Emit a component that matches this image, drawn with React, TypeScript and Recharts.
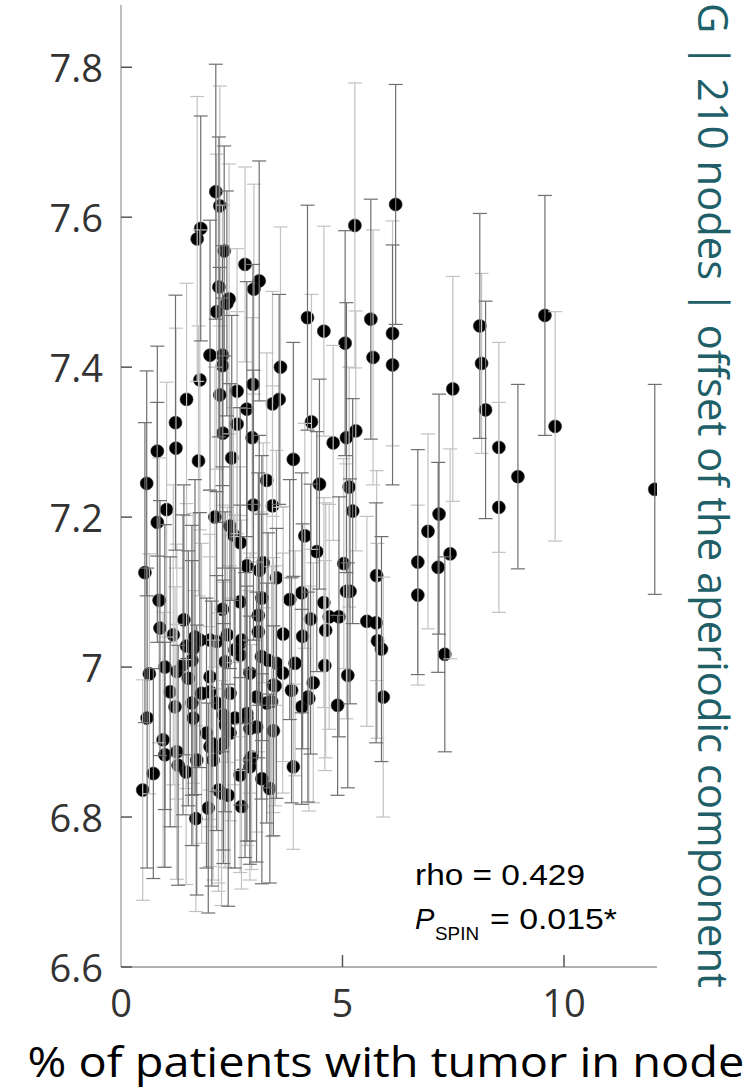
import React from 'react';
import { ScatterChart, Scatter, XAxis, YAxis, ErrorBar } from 'recharts';

// node-wise values
const xVals = [
  2.14, 2.23, 1.8, 1.72, 2.33, 2.8, 3.12, 3.0, 2.21, 2.44, 2.39, 2.16, 4.21, 4.58, 5.06, 5.28, 5.64, 6.13, 6.2, 5.69,
  6.13, 7.49, 8.1, 8.14, 8.23, 8.53, 8.96, 8.53, 9.57, 9.8, 12.05, 1.48, 1.23, 1.24, 0.82, 1.75, 2.23, 2.62, 2.98, 1.78,
  2.84, 2.62, 2.3, 2.96, 2.5, 3.42, 3.57, 4.3, 3.89, 4.79, 5.09, 5.3, 0.58, 3.29, 4.48, 5.15, 5.23, 1.03, 0.82, 2.12,
  2.99, 3.42, 2.46, 2.54, 2.69, 4.15, 4.42, 5.03, 2.84, 3.21, 3.12, 5.77, 0.54, 3.51, 2.01, 2.29, 2.29, 3.6, 5.17, 5.09,
  4.08, 4.58, 4.28, 4.7, 4.92, 4.62, 4.1, 5.55, 5.76, 5.79, 5.88, 4.6, 5.12, 4.34, 4.22, 5.92, 6.7, 6.93, 7.18, 6.7,
  7.16, 7.43, 7.31, 0.86, 0.88, 1.18, 1.42, 0.64, 0.99, 1.26, 1.67, 1.63, 2.16, 2.4, 2.29, 2.69, 3.81, 3.66, 3.1, 3.1,
  3.51, 3.93, 2.69, 2.69, 3.17, 3.65, 1.11, 1.22, 0.59, 0.95, 0.73, 0.49, 0.99, 1.26, 1.29, 1.47, 1.71, 1.69, 1.97, 2.2,
  2.42, 2.72, 3.36, 3.89, 1.6, 1.63, 1.93, 2.01, 1.4, 2.01, 2.16, 2.35, 2.31, 2.2, 2.57, 2.84, 2.91, 3.06, 3.29, 3.44,
  3.85, 3.4, 3.44, 2.91, 2.91, 2.27, 4.08, 4.24, 4.89, 2.01, 1.52, 1.82, 2.31, 2.46, 2.8, 2.91, 3.06, 1.48, 1.78, 2.01,
  1.6, 2.72, 2.84, 2.95, 2.05, 2.46, 3.32, 3.48, 3.18, 2.57, 2.35, 2.08, 3.18, 2.69,
];

const yVals = [
  7.634, 7.615, 7.585, 7.571, 7.555, 7.537, 7.515, 7.504, 7.507, 7.491, 7.485, 7.474, 7.466, 7.448, 7.432, 7.589, 7.464, 7.445, 7.617, 7.413,
  7.403, 7.371, 7.455, 7.405, 7.343, 7.293, 7.254, 7.213, 7.469, 7.321, 7.237, 7.357, 7.326, 7.292, 7.288, 7.275, 7.363, 7.368, 7.377, 7.383,
  7.344, 7.324, 7.312, 7.306, 7.279, 7.351, 7.357, 7.327, 7.277, 7.299, 7.306, 7.315, 7.245, 7.249, 7.244, 7.24, 7.208, 7.21, 7.193, 7.2,
  7.216, 7.215, 7.188, 7.176, 7.166, 7.175, 7.154, 7.138, 7.135, 7.139, 7.129, 7.122, 7.126, 7.119, 7.416, 7.416, 7.402, 7.4, 7.101, 7.101,
  7.099, 7.086, 7.064, 7.067, 7.067, 7.049, 7.041, 7.061, 7.059, 7.035, 7.024, 7.002, 6.989, 6.979, 6.96, 6.96, 7.14, 7.181, 7.204, 7.096,
  7.133, 7.151, 7.017, 7.089, 7.052, 7.043, 7.063, 6.991, 7.0, 6.994, 7.04, 7.025, 7.034, 7.043, 7.077, 7.087, 7.09, 7.044, 7.069, 7.047,
  7.005, 7.005, 7.016, 7.032, 7.014, 6.992, 6.967, 6.947, 6.932, 6.903, 6.858, 6.836, 6.883, 6.887, 6.869, 6.86, 6.876, 6.798, 6.812, 6.836,
  6.829, 6.814, 6.838, 6.867, 6.952, 6.932, 6.912, 6.894, 7.003, 6.967, 6.952, 6.923, 6.898, 6.892, 6.932, 6.932, 6.918, 6.96, 6.952, 6.976,
  6.969, 6.954, 6.915, 6.876, 6.867, 6.832, 6.947, 6.958, 6.949, 6.987, 6.985, 6.965, 6.936, 6.965, 6.936, 6.992, 6.92, 7.028, 7.036, 7.036,
  7.009, 7.036, 6.938, 6.88, 6.898, 6.912, 7.009, 6.975, 7.092, 7.023, 7.007, 6.876, 6.851, 6.856,
];

const errVals = [
  0.17, 0.16, 0.15, 0.19, 0.14, 0.13, 0.16, 0.14, 0.2, 0.18, 0.15, 0.21, 0.15, 0.14, 0.15, 0.19, 0.16, 0.15, 0.16, 0.17,
  0.16, 0.15, 0.15, 0.12, 0.145, 0.14, 0.123, 0.14, 0.16, 0.153, 0.14, 0.155, 0.17, 0.16, 0.14, 0.18, 0.17, 0.19, 0.16, 0.2,
  0.17, 0.15, 0.18, 0.16, 0.19, 0.15, 0.14, 0.17, 0.156, 0.13, 0.18, 0.16, 0.15, 0.17, 0.14, 0.16, 0.15, 0.17, 0.16, 0.2,
  0.18, 0.16, 0.19, 0.17, 0.18, 0.15, 0.16, 0.14, 0.21, 0.16, 0.18, 0.14, 0.2, 0.17, 0.18, 0.2, 0.16, 0.187, 0.15, 0.17,
  0.16, 0.14, 0.18, 0.15, 0.16, 0.17, 0.15, 0.14, 0.16, 0.13, 0.15, 0.14, 0.15, 0.16, 0.14, 0.16, 0.15, 0.13, 0.16, 0.12,
  0.14, 0.14, 0.13, 0.19, 0.17, 0.2, 0.18, 0.16, 0.19, 0.17, 0.21, 0.18, 0.2, 0.17, 0.19, 0.18, 0.16, 0.17, 0.19, 0.16,
  0.18, 0.15, 0.2, 0.17, 0.19, 0.16, 0.18, 0.16, 0.2, 0.17, 0.14, 0.147, 0.15, 0.17, 0.16, 0.15, 0.18, 0.124, 0.14, 0.135,
  0.148, 0.11, 0.126, 0.11, 0.19, 0.17, 0.18, 0.16, 0.2, 0.18, 0.17, 0.19, 0.16, 0.18, 0.2, 0.17, 0.15, 0.18, 0.16, 0.17,
  0.15, 0.18, 0.14, 0.16, 0.13, 0.15, 0.13, 0.15, 0.12, 0.19, 0.17, 0.2, 0.18, 0.17, 0.19, 0.16, 0.18, 0.19, 0.17, 0.2,
  0.18, 0.16, 0.17, 0.15, 0.19, 0.18, 0.17, 0.16, 0.19, 0.18, 0.2, 0.16, 0.14, 0.13,
];

const xTicks = [0, 5, 10];
const yTicks = [6.6, 6.8, 7, 7.2, 7.4, 7.6, 7.8];
const xLabel = '% of patients with tumor in node';
const sideLabel = 'G | 210 nodes | offset of the aperiodic component';
const rhoText = 'rho = 0.429';
const pValueText = '= 0.015*';

const FONT = '"Open Sans", "DejaVu Sans", sans-serif';
const NOTE_FONT = '"Liberation Sans", "Open Sans", sans-serif';

const rows = xVals.map((x, i) => ({ x, y: yVals[i], err: errVals[i] }));
// bars come in a dark and a light shade in the original; alternate them
const darkRows = rows.filter((_, i) => i % 2 === 0);
const lightRows = rows.filter((_, i) => i % 2 === 1);

const fmt = (v: number) => String(Number(v.toFixed(1)));

const YTick = (props: any) => {
  const { x, y, payload } = props;
  return (
    <g>
      <line x1={x + 18} x2={x + 29} y1={y} y2={y} stroke="#555" strokeWidth={1.5} />
      <text x={x} y={y} textAnchor="end" dominantBaseline="central" fontSize={38} fill="#333" fontFamily={FONT}>
        {fmt(payload.value)}
      </text>
    </g>
  );
};

const XTick = (props: any) => {
  const { x, y, payload } = props;
  return (
    <g>
      {payload.value !== 0 && <line x1={x} x2={x} y1={y} y2={y - 12} stroke="#555" strokeWidth={1.5} />}
      <text x={x} y={y + 50} textAnchor="middle" fontSize={38} fill="#333" fontFamily={FONT}>
        {fmt(payload.value)}
      </text>
    </g>
  );
};

const Dot = (props: any) => <circle cx={props.cx} cy={props.cy} r={6.5} fill="#000" stroke="#333" strokeWidth={0.6} />;
const NoDot = () => <g />;

export default function App() {
  return (
    <div style={{ position: 'absolute', left: 0, top: 0, width: 748, height: 1092, background: '#fff' }}>
      <ScatterChart width={748} height={1092} margin={{ top: 5, right: 91, bottom: 0, left: 0 }}>
        <XAxis
          type="number"
          dataKey="x"
          domain={[0, 12.1]}
          allowDataOverflow
          ticks={xTicks}
          tick={<XTick />}
          tickLine={false}
          tickSize={0}
          tickMargin={0}
          height={125}
          axisLine={{ stroke: '#999', strokeWidth: 1.5 }}
        />
        <YAxis
          type="number"
          dataKey="y"
          domain={[6.6, 7.883]}
          allowDataOverflow
          ticks={yTicks}
          tick={<YTick />}
          tickLine={false}
          tickSize={0}
          tickMargin={18}
          width={121}
          axisLine={{ stroke: '#aaa', strokeWidth: 1.5 }}
        />
        <Scatter data={rows} shape={Dot} isAnimationActive={false} />
        <Scatter data={lightRows} shape={NoDot} isAnimationActive={false}>
          <ErrorBar dataKey="err" direction="y" width={7} stroke="#c2c2c2" strokeWidth={1.2} zIndex={700} />
        </Scatter>
        <Scatter data={darkRows} shape={NoDot} isAnimationActive={false}>
          <ErrorBar dataKey="err" direction="y" width={7} stroke="#6f6f6f" strokeWidth={1.2} zIndex={710} />
        </Scatter>
      </ScatterChart>
      <svg width={748} height={1092} style={{ position: 'absolute', left: 0, top: 0, pointerEvents: 'none' }}>
        <text x={386} y={1077} textAnchor="middle" fontSize={42} fill="#000" fontFamily={FONT} textLength={717} lengthAdjust="spacingAndGlyphs">
          {xLabel}
        </text>
        <text
          x={698}
          y={3}
          transform="rotate(90, 698, 3)"
          fontSize={42}
          fill="#215f68"
          fontFamily={FONT}
          textLength={985}
          lengthAdjust="spacingAndGlyphs"
        >
          {sideLabel}
        </text>
        <text x={415} y={885} fontSize={29} fill="#000" fontFamily={NOTE_FONT} textLength={170} lengthAdjust="spacingAndGlyphs">
          {rhoText}
        </text>
        <text x={415} y={929} fontSize={29} fontStyle="italic" fill="#000" fontFamily={NOTE_FONT}>P</text>
        <text x={435} y={940} fontSize={19} fill="#000" fontFamily={NOTE_FONT} textLength={44} lengthAdjust="spacingAndGlyphs">SPIN</text>
        <text x={490} y={929} fontSize={29} fill="#000" fontFamily={NOTE_FONT} textLength={127} lengthAdjust="spacingAndGlyphs">
          {pValueText}
        </text>
      </svg>
    </div>
  );
}
